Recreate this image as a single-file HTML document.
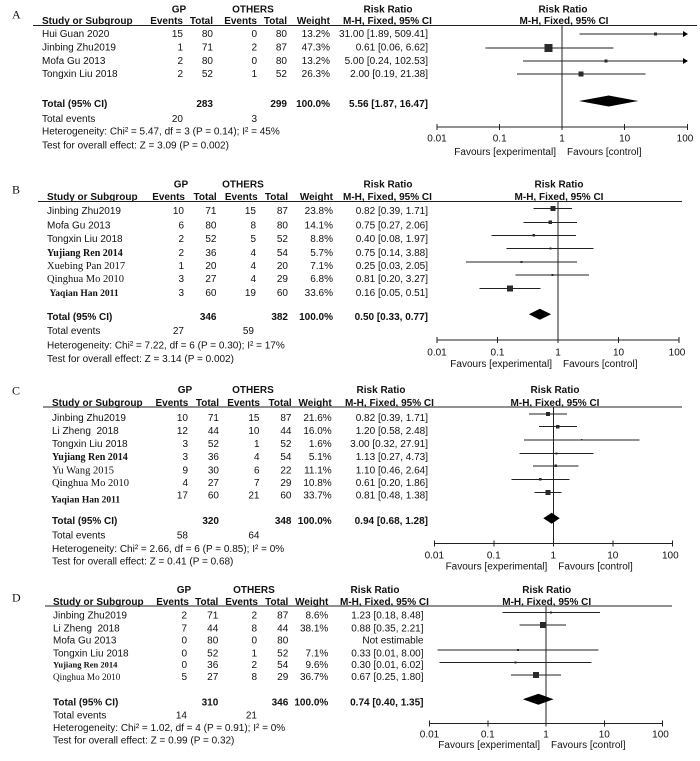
<!DOCTYPE html>
<html><head><meta charset="utf-8"><style>
html,body{margin:0;padding:0;background:#fff;}
svg{display:block;background:#fff;}
text{font-family:"Liberation Sans",Arial,sans-serif;font-size:10px;fill:#111;}
.r{text-anchor:end}.m{text-anchor:middle}.b{font-weight:bold}
.s{font-family:"Liberation Serif","Times New Roman",serif;}
.lt{font-family:"Liberation Serif","Times New Roman",serif;font-size:12px;}
line{stroke:#222;stroke-width:1;shape-rendering:crispEdges}
rect.sq{fill:#2a2a2a;shape-rendering:crispEdges}
polygon{fill:#000}
</style></head><body>
<svg width="700" height="761" viewBox="0 0 700 761" xmlns="http://www.w3.org/2000/svg">
<rect x="0" y="0" width="700" height="761" style="fill:#fff"/>

<!-- ================= PANEL A ================= -->
<text class="lt" x="12" y="18.5">A</text>
<text class="b m" x="179" y="12.5">GP</text>
<text class="b m" x="253" y="12.5">OTHERS</text>
<text class="b m" x="388" y="12.5">Risk Ratio</text>
<text class="b m" x="563" y="12.5">Risk Ratio</text>
<text class="b" x="42" y="24">Study or Subgroup</text>
<text class="b r" x="183" y="24">Events</text>
<text class="b r" x="213" y="24">Total</text>
<text class="b r" x="257" y="24">Events</text>
<text class="b r" x="287" y="24">Total</text>
<text class="b r" x="330" y="24">Weight</text>
<text class="b" x="343" y="24">M-H, Fixed, 95% CI</text>
<text class="b m" x="564" y="24">M-H, Fixed, 95% CI</text>
<line x1="33" y1="25.5" x2="697" y2="25.5"/>

<text x="42" y="37">Hui Guan 2020</text><text class="r" x="183" y="37">15</text><text class="r" x="213" y="37">80</text><text class="r" x="257" y="37">0</text><text class="r" x="287" y="37">80</text><text class="r" x="330" y="37">13.2%</text><text class="r" x="428" y="37">31.00 [1.89, 509.41]</text>
<text x="42" y="50.5">Jinbing Zhu2019</text><text class="r" x="183" y="50.5">1</text><text class="r" x="213" y="50.5">71</text><text class="r" x="257" y="50.5">2</text><text class="r" x="287" y="50.5">87</text><text class="r" x="330" y="50.5">47.3%</text><text class="r" x="428" y="50.5">0.61 [0.06, 6.62]</text>
<text x="42" y="63.8">Mofa Gu 2013</text><text class="r" x="183" y="63.8">2</text><text class="r" x="213" y="63.8">80</text><text class="r" x="257" y="63.8">0</text><text class="r" x="287" y="63.8">80</text><text class="r" x="330" y="63.8">13.2%</text><text class="r" x="428" y="63.8">5.00 [0.24, 102.53]</text>
<text x="42" y="77.2">Tongxin Liu 2018</text><text class="r" x="183" y="77.2">2</text><text class="r" x="213" y="77.2">52</text><text class="r" x="257" y="77.2">1</text><text class="r" x="287" y="77.2">52</text><text class="r" x="330" y="77.2">26.3%</text><text class="r" x="428" y="77.2">2.00 [0.19, 21.38]</text>
<text class="b" x="42" y="106.8">Total (95% CI)</text><text class="b r" x="213" y="106.8">283</text><text class="b r" x="287" y="106.8">299</text><text class="b r" x="330" y="106.8">100.0%</text><text class="b r" x="428" y="106.8">5.56 [1.87, 16.47]</text>
<text x="42" y="121.8">Total events</text><text class="r" x="183" y="121.8">20</text><text class="r" x="257" y="121.8">3</text>
<text x="42" y="134.5">Heterogeneity: Chi² = 5.47, df = 3 (P = 0.14); I² = 45%</text>
<text x="42" y="148.5">Test for overall effect: Z = 3.09 (P = 0.002)</text>

<line x1="562" y1="25.5" x2="562" y2="127"/>
<line x1="579.3" y1="34" x2="685" y2="34"/><polygon points="688,34 683,31 683,37"/><rect class="sq" x="654" y="32.5" width="3" height="3"/>
<line x1="485.4" y1="48" x2="613.5" y2="48"/><rect class="sq" x="544.5" y="44" width="8" height="8"/>
<line x1="523.1" y1="61" x2="685" y2="61"/><polygon points="688,61 683,58 683,64"/><rect class="sq" x="604.3" y="59.5" width="3" height="3"/>
<line x1="516.8" y1="74" x2="645.4" y2="74"/><rect class="sq" x="578.4" y="71.5" width="5" height="5"/>
<polygon points="579,101 608.7,95.5 638.3,101 608.7,106.5"/>
<line x1="437" y1="127" x2="688" y2="127"/>
<line x1="437" y1="124" x2="437" y2="130"/><line x1="499.7" y1="124" x2="499.7" y2="130"/><line x1="562" y1="124" x2="562" y2="130"/><line x1="624.7" y1="124" x2="624.7" y2="130"/><line x1="687.5" y1="124" x2="687.5" y2="130"/>
<text class="m" x="437" y="141.5">0.01</text><text class="m" x="499.7" y="141.5">0.1</text><text class="m" x="562" y="141.5">1</text><text class="m" x="624.7" y="141.5">10</text><text class="m" x="685" y="141.5">100</text>
<text class="r" x="556" y="155">Favours [experimental]</text><text x="567" y="155">Favours [control]</text>

<!-- ================= PANEL B ================= -->
<text class="lt" x="12" y="193.5">B</text>
<text class="b m" x="181" y="187.5">GP</text>
<text class="b m" x="243" y="187.5">OTHERS</text>
<text class="b m" x="388" y="187.5">Risk Ratio</text>
<text class="b m" x="559" y="187.5">Risk Ratio</text>
<text class="b" x="47" y="200">Study or Subgroup</text>
<text class="b r" x="185" y="200">Events</text>
<text class="b r" x="216.7" y="200">Total</text>
<text class="b r" x="257.7" y="200">Events</text>
<text class="b r" x="288" y="200">Total</text>
<text class="b r" x="333" y="200">Weight</text>
<text class="b" x="343" y="200">M-H, Fixed, 95% CI</text>
<text class="b m" x="559" y="200">M-H, Fixed, 95% CI</text>
<line x1="38" y1="201.5" x2="682" y2="201.5"/>

<text x="47" y="214.2">Jinbing Zhu2019</text><text class="r" x="184" y="214.2">10</text><text class="r" x="216.5" y="214.2">71</text><text class="r" x="256" y="214.2">15</text><text class="r" x="288" y="214.2">87</text><text class="r" x="333" y="214.2">23.8%</text><text class="r" x="428" y="214.2">0.82 [0.39, 1.71]</text>
<text x="47" y="228.5">Mofa Gu 2013</text><text class="r" x="184" y="228.5">6</text><text class="r" x="216.5" y="228.5">80</text><text class="r" x="256" y="228.5">8</text><text class="r" x="288" y="228.5">80</text><text class="r" x="333" y="228.5">14.1%</text><text class="r" x="428" y="228.5">0.75 [0.27, 2.06]</text>
<text x="47" y="241.8">Tongxin Liu 2018</text><text class="r" x="184" y="241.8">2</text><text class="r" x="216.5" y="241.8">52</text><text class="r" x="256" y="241.8">5</text><text class="r" x="288" y="241.8">52</text><text class="r" x="333" y="241.8">8.8%</text><text class="r" x="428" y="241.8">0.40 [0.08, 1.97]</text>
<text class="s b" x="47" y="255.8">Yujiang Ren 2014</text><text class="r" x="184" y="255.8">2</text><text class="r" x="216.5" y="255.8">36</text><text class="r" x="256" y="255.8">4</text><text class="r" x="288" y="255.8">54</text><text class="r" x="333" y="255.8">5.7%</text><text class="r" x="428" y="255.8">0.75 [0.14, 3.88]</text>
<text class="s" style="font-size:10.5px" x="47" y="269.2">Xuebing Pan 2017</text><text class="r" x="184" y="269.2">1</text><text class="r" x="216.5" y="269.2">20</text><text class="r" x="256" y="269.2">4</text><text class="r" x="288" y="269.2">20</text><text class="r" x="333" y="269.2">7.1%</text><text class="r" x="428" y="269.2">0.25 [0.03, 2.05]</text>
<text class="s" style="font-size:10.5px" x="47" y="281.8">Qinghua Mo 2010</text><text class="r" x="184" y="281.8">3</text><text class="r" x="216.5" y="281.8">27</text><text class="r" x="256" y="281.8">4</text><text class="r" x="288" y="281.8">29</text><text class="r" x="333" y="281.8">6.8%</text><text class="r" x="428" y="281.8">0.81 [0.20, 3.27]</text>
<text class="s b" style="font-size:9.5px" x="49.5" y="295.8">Yaqian Han 2011</text><text class="r" x="184" y="295.8">3</text><text class="r" x="216.5" y="295.8">60</text><text class="r" x="256" y="295.8">19</text><text class="r" x="288" y="295.8">60</text><text class="r" x="333" y="295.8">33.6%</text><text class="r" x="428" y="295.8">0.16 [0.05, 0.51]</text>
<text class="b" x="47" y="320.2">Total (95% CI)</text><text class="b r" x="216.5" y="320.2">346</text><text class="b r" x="288" y="320.2">382</text><text class="b r" x="333" y="320.2">100.0%</text><text class="b r" x="428" y="320.2">0.50 [0.33, 0.77]</text>
<text x="47" y="334.2">Total events</text><text class="r" x="184" y="334.2">27</text><text class="r" x="254" y="334.2">59</text>
<text x="47" y="348.5">Heterogeneity: Chi² = 7.22, df = 6 (P = 0.30); I² = 17%</text>
<text x="47" y="361.8">Test for overall effect: Z = 3.14 (P = 0.002)</text>

<line x1="558" y1="201.5" x2="558" y2="340"/>
<line x1="533.3" y1="208.3" x2="572.1" y2="208.3"/><rect class="sq" x="550.3" y="205.8" width="5" height="5"/>
<line x1="523.6" y1="222.3" x2="577" y2="222.3"/><rect class="sq" x="548.6" y="220.5" width="3.5" height="3.5"/>
<line x1="491.6" y1="235.3" x2="575.8" y2="235.3"/><rect class="sq" x="532.6" y="234" width="2.5" height="2.5"/>
<line x1="506.3" y1="248.7" x2="593.6" y2="248.7"/><rect class="sq" x="549.4" y="247.7" width="2" height="2"/>
<line x1="465.9" y1="262" x2="576.9" y2="262"/><rect class="sq" x="520.6" y="261" width="2" height="2"/>
<line x1="515.7" y1="275" x2="589.1" y2="275"/><rect class="sq" x="551.5" y="274" width="2" height="2"/>
<line x1="479.3" y1="288.7" x2="540.3" y2="288.7"/><rect class="sq" x="506.8" y="285.7" width="6" height="6"/>
<polygon points="528.9,314.3 539.8,308.8 551.1,314.3 539.8,319.8"/>
<line x1="437" y1="340" x2="679" y2="340"/>
<line x1="437" y1="337" x2="437" y2="343"/><line x1="497.5" y1="337" x2="497.5" y2="343"/><line x1="558" y1="337" x2="558" y2="343"/><line x1="618.5" y1="337" x2="618.5" y2="343"/><line x1="679" y1="337" x2="679" y2="343"/>
<text class="m" x="437" y="355.5">0.01</text><text class="m" x="497.5" y="355.5">0.1</text><text class="m" x="558" y="355.5">1</text><text class="m" x="618.5" y="355.5">10</text><text class="m" x="677" y="355.5">100</text>
<text class="r" x="552" y="367">Favours [experimental]</text><text x="563" y="367">Favours [control]</text>

<!-- ================= PANEL C ================= -->
<text class="lt" x="12" y="394.5">C</text>
<text class="b m" x="185" y="392.8">GP</text>
<text class="b m" x="253" y="392.8">OTHERS</text>
<text class="b m" x="381" y="392.8">Risk Ratio</text>
<text class="b m" x="555" y="392.8">Risk Ratio</text>
<text class="b" x="52" y="405.8">Study or Subgroup</text>
<text class="b r" x="188.3" y="405.8">Events</text>
<text class="b r" x="219" y="405.8">Total</text>
<text class="b r" x="260" y="405.8">Events</text>
<text class="b r" x="291.7" y="405.8">Total</text>
<text class="b r" x="331.7" y="405.8">Weight</text>
<text class="b" x="345" y="405.8">M-H, Fixed, 95% CI</text>
<text class="b m" x="555" y="405.8">M-H, Fixed, 95% CI</text>
<line x1="43" y1="407" x2="682" y2="407"/>

<text x="52" y="420.8">Jinbing Zhu2019</text><text class="r" x="188" y="420.8">10</text><text class="r" x="219" y="420.8">71</text><text class="r" x="259.5" y="420.8">15</text><text class="r" x="291.5" y="420.8">87</text><text class="r" x="331.7" y="420.8">21.6%</text><text class="r" x="428" y="420.8">0.82 [0.39, 1.71]</text>
<text x="52" y="434.2">Li Zheng&#160; 2018</text><text class="r" x="188" y="434.2">12</text><text class="r" x="219" y="434.2">44</text><text class="r" x="259.5" y="434.2">10</text><text class="r" x="291.5" y="434.2">44</text><text class="r" x="331.7" y="434.2">16.0%</text><text class="r" x="428" y="434.2">1.20 [0.58, 2.48]</text>
<text x="52" y="446.8">Tongxin Liu 2018</text><text class="r" x="188" y="446.8">3</text><text class="r" x="219" y="446.8">52</text><text class="r" x="259.5" y="446.8">1</text><text class="r" x="291.5" y="446.8">52</text><text class="r" x="331.7" y="446.8">1.6%</text><text class="r" x="428" y="446.8">3.00 [0.32, 27.91]</text>
<text class="s b" x="52" y="460.2">Yujiang Ren 2014</text><text class="r" x="188" y="460.2">3</text><text class="r" x="219" y="460.2">36</text><text class="r" x="259.5" y="460.2">4</text><text class="r" x="291.5" y="460.2">54</text><text class="r" x="331.7" y="460.2">5.1%</text><text class="r" x="428" y="460.2">1.13 [0.27, 4.73]</text>
<text class="s" style="font-size:10.5px" x="52" y="473.5">Yu Wang 2015</text><text class="r" x="188" y="473.5">9</text><text class="r" x="219" y="473.5">30</text><text class="r" x="259.5" y="473.5">6</text><text class="r" x="291.5" y="473.5">22</text><text class="r" x="331.7" y="473.5">11.1%</text><text class="r" x="428" y="473.5">1.10 [0.46, 2.64]</text>
<text class="s" style="font-size:10.5px" x="52" y="486.2">Qinghua Mo 2010</text><text class="r" x="188" y="486.2">4</text><text class="r" x="219" y="486.2">27</text><text class="r" x="259.5" y="486.2">7</text><text class="r" x="291.5" y="486.2">29</text><text class="r" x="331.7" y="486.2">10.8%</text><text class="r" x="428" y="486.2">0.61 [0.20, 1.86]</text>
<text class="s b" style="font-size:9.5px" x="51" y="502.5">Yaqian Han 2011</text><text class="r" x="188" y="498.5">17</text><text class="r" x="219" y="498.5">60</text><text class="r" x="259.5" y="498.5">21</text><text class="r" x="291.5" y="498.5">60</text><text class="r" x="331.7" y="498.5">33.7%</text><text class="r" x="428" y="498.5">0.81 [0.48, 1.38]</text>
<text class="b" x="52" y="524.2">Total (95% CI)</text><text class="b r" x="219" y="524.2">320</text><text class="b r" x="291.5" y="524.2">348</text><text class="b r" x="331.7" y="524.2">100.0%</text><text class="b r" x="428" y="524.2">0.94 [0.68, 1.28]</text>
<text x="52" y="538.5">Total events</text><text class="r" x="188" y="538.5">58</text><text class="r" x="259.5" y="538.5">64</text>
<text x="52" y="551.8">Heterogeneity: Chi² = 2.66, df = 6 (P = 0.85); I² = 0%</text>
<text x="52" y="564.5">Test for overall effect: Z = 0.41 (P = 0.68)</text>

<line x1="553.3" y1="407" x2="553.3" y2="543.3"/>
<line x1="529" y1="414" x2="567.2" y2="414"/><rect class="sq" x="546.2" y="412" width="4" height="4"/>
<line x1="539.2" y1="426.7" x2="576.8" y2="426.7"/><rect class="sq" x="556.2" y="424.9" width="3.5" height="3.5"/>
<line x1="523.9" y1="440" x2="639.3" y2="440"/><rect class="sq" x="581" y="439.2" width="1.5" height="1.5"/>
<line x1="519.5" y1="453.3" x2="593.5" y2="453.3"/><rect class="sq" x="555.5" y="452.3" width="2" height="2"/>
<line x1="533.2" y1="466" x2="578.4" y2="466"/><rect class="sq" x="554.5" y="464.7" width="2.5" height="2.5"/>
<line x1="511.7" y1="479.3" x2="569.3" y2="479.3"/><rect class="sq" x="539.2" y="478" width="2.5" height="2.5"/>
<line x1="534.3" y1="492.3" x2="561.6" y2="492.3"/><rect class="sq" x="545.4" y="489.8" width="5" height="5"/>
<polygon points="543.3,518.3 551.7,512.8 559.7,518.3 551.7,523.8"/>
<line x1="434.3" y1="543.3" x2="672.3" y2="543.3"/>
<line x1="434.3" y1="540.3" x2="434.3" y2="546.3"/><line x1="493.8" y1="540.3" x2="493.8" y2="546.3"/><line x1="553.3" y1="540.3" x2="553.3" y2="546.3"/><line x1="612.8" y1="540.3" x2="612.8" y2="546.3"/><line x1="672.3" y1="540.3" x2="672.3" y2="546.3"/>
<text class="m" x="434.3" y="558.5">0.01</text><text class="m" x="493.8" y="558.5">0.1</text><text class="m" x="553.3" y="558.5">1</text><text class="m" x="612.8" y="558.5">10</text><text class="m" x="670.3" y="558.5">100</text>
<text class="r" x="547.3" y="569.5">Favours [experimental]</text><text x="558.3" y="569.5">Favours [control]</text>

<!-- ================= PANEL D ================= -->
<text class="lt" x="12" y="601.5">D</text>
<text class="b m" x="184" y="592.8">GP</text>
<text class="b m" x="254" y="592.8">OTHERS</text>
<text class="b m" x="375" y="592.8">Risk Ratio</text>
<text class="b m" x="546.7" y="592.8">Risk Ratio</text>
<text class="b" x="53" y="605">Study or Subgroup</text>
<text class="b r" x="189" y="605">Events</text>
<text class="b r" x="218.3" y="605">Total</text>
<text class="b r" x="258" y="605">Events</text>
<text class="b r" x="288.3" y="605">Total</text>
<text class="b r" x="328.3" y="605">Weight</text>
<text class="b" x="340" y="605">M-H, Fixed, 95% CI</text>
<text class="b m" x="546.7" y="605">M-H, Fixed, 95% CI</text>
<line x1="45" y1="606" x2="672" y2="606"/>

<text x="53" y="618.5">Jinbing Zhu2019</text><text class="r" x="187" y="618.5">2</text><text class="r" x="218.3" y="618.5">71</text><text class="r" x="257" y="618.5">2</text><text class="r" x="288.3" y="618.5">87</text><text class="r" x="328.3" y="618.5">8.6%</text><text class="r" x="423.5" y="618.5">1.23 [0.18, 8.48]</text>
<text x="53" y="631.5">Li Zheng&#160; 2018</text><text class="r" x="187" y="631.5">7</text><text class="r" x="218.3" y="631.5">44</text><text class="r" x="257" y="631.5">8</text><text class="r" x="288.3" y="631.5">44</text><text class="r" x="328.3" y="631.5">38.1%</text><text class="r" x="423.5" y="631.5">0.88 [0.35, 2.21]</text>
<text x="53" y="643.5">Mofa Gu 2013</text><text class="r" x="187" y="643.5">0</text><text class="r" x="218.3" y="643.5">80</text><text class="r" x="257" y="643.5">0</text><text class="r" x="288.3" y="643.5">80</text><text class="r" x="423.5" y="643.5">Not estimable</text>
<text x="53" y="656.5">Tongxin Liu 2018</text><text class="r" x="187" y="656.5">0</text><text class="r" x="218.3" y="656.5">52</text><text class="r" x="257" y="656.5">1</text><text class="r" x="288.3" y="656.5">52</text><text class="r" x="328.3" y="656.5">7.1%</text><text class="r" x="423.5" y="656.5">0.33 [0.01, 8.00]</text>
<text class="s b" style="font-size:8.5px" x="53" y="667.5">Yujiang Ren 2014</text><text class="r" x="187" y="667.8">0</text><text class="r" x="218.3" y="667.8">36</text><text class="r" x="257" y="667.8">2</text><text class="r" x="288.3" y="667.8">54</text><text class="r" x="328.3" y="667.8">9.6%</text><text class="r" x="423.5" y="667.8">0.30 [0.01, 6.02]</text>
<text class="s" style="font-size:9.2px" x="53" y="679.8">Qinghua Mo 2010</text><text class="r" x="187" y="680.2">5</text><text class="r" x="218.3" y="680.2">27</text><text class="r" x="257" y="680.2">8</text><text class="r" x="288.3" y="680.2">29</text><text class="r" x="328.3" y="680.2">36.7%</text><text class="r" x="423.5" y="680.2">0.67 [0.25, 1.80]</text>
<text class="b" x="53" y="705.5">Total (95% CI)</text><text class="b r" x="218.3" y="705.5">310</text><text class="b r" x="288.3" y="705.5">346</text><text class="b r" x="328.3" y="705.5">100.0%</text><text class="b r" x="423.5" y="705.5">0.74 [0.40, 1.35]</text>
<text x="53" y="718.5">Total events</text><text class="r" x="187" y="718.5">14</text><text class="r" x="257" y="718.5">21</text>
<text x="53" y="731.2">Heterogeneity: Chi² = 1.02, df = 4 (P = 0.91); I² = 0%</text>
<text x="53" y="743.5">Test for overall effect: Z = 0.99 (P = 0.32)</text>

<line x1="546" y1="606" x2="546" y2="723.3"/>
<line x1="502.6" y1="612.3" x2="600.1" y2="612.3"/><rect class="sq" x="550.2" y="611.3" width="2" height="2"/>
<line x1="519.4" y1="625" x2="566.1" y2="625"/><rect class="sq" x="539.8" y="622" width="6" height="6"/>
<line x1="437.7" y1="650" x2="598.6" y2="650"/><rect class="sq" x="517" y="649" width="2" height="2"/>
<line x1="439.3" y1="662.3" x2="591.4" y2="662.3"/><rect class="sq" x="514.5" y="661.3" width="2" height="2"/>
<line x1="510.9" y1="675" x2="560.9" y2="675"/><rect class="sq" x="532.9" y="672" width="6" height="6"/>
<polygon points="522.8,699.3 538.4,693.8 553.6,699.3 538.4,704.8"/>
<line x1="429.5" y1="723.3" x2="663" y2="723.3"/>
<line x1="429.5" y1="720.3" x2="429.5" y2="726.3"/><line x1="487.8" y1="720.3" x2="487.8" y2="726.3"/><line x1="546" y1="720.3" x2="546" y2="726.3"/><line x1="604.3" y1="720.3" x2="604.3" y2="726.3"/><line x1="662.5" y1="720.3" x2="662.5" y2="726.3"/>
<text class="m" x="429.5" y="737.5">0.01</text><text class="m" x="487.8" y="737.5">0.1</text><text class="m" x="546" y="737.5">1</text><text class="m" x="604.3" y="737.5">10</text><text class="m" x="660.5" y="737.5">100</text>
<text class="r" x="540" y="748">Favours [experimental]</text><text x="551" y="748">Favours [control]</text>
</svg>
</body></html>
